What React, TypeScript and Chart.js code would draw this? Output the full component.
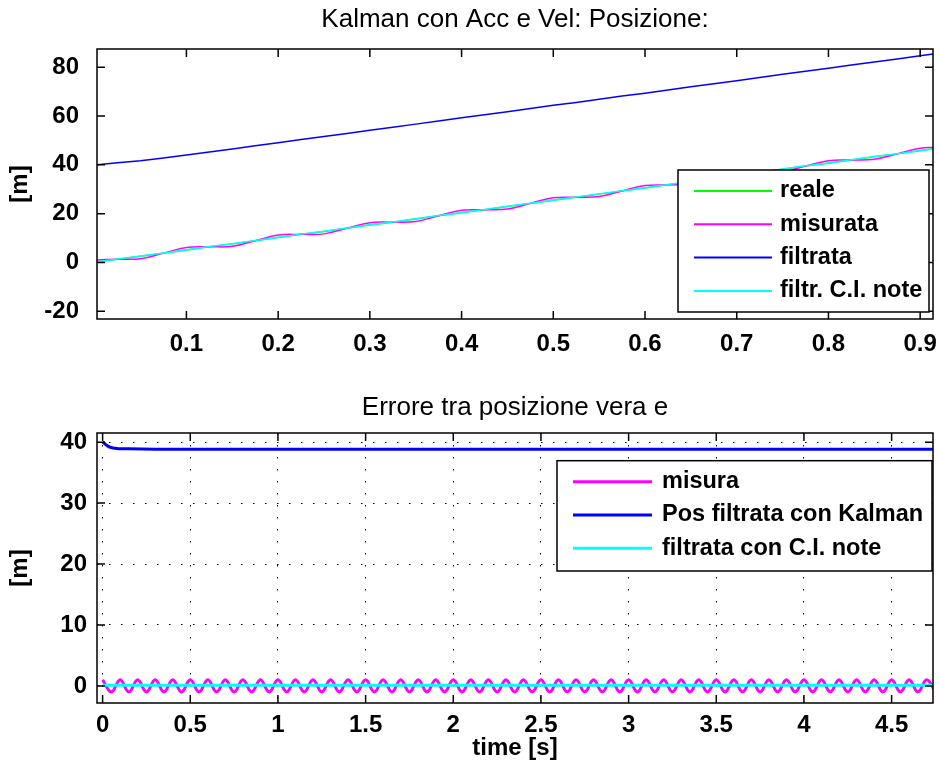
import React, { useEffect, useRef } from "react";
import { Chart, registerables } from "chart.js";

Chart.register(...registerables);

const FONT = "'Liberation Sans', Arial, Helvetica, sans-serif";

// ---------- texts ----------
const topTitle = "Kalman con Acc e Vel: Posizione:";
const bottomTitle = "Errore tra posizione vera e";
const yAxisTitle = "[m]";
const bottomXTitle = "time [s]";
const topSeriesNames = ["reale", "misurata", "filtrata", "filtr. C.I. note"];
const bottomSeriesNames = ["misura", "Pos filtrata con Kalman", "filtrata con C.I. note"];

// ---------- ticks ----------
const topXTicks = [0.1, 0.2, 0.3, 0.4, 0.5, 0.6, 0.7, 0.8, 0.9];
const topXTickLabels = ["0.1", "0.2", "0.3", "0.4", "0.5", "0.6", "0.7", "0.8", "0.9"];
const topYTicks = [-20, 0, 20, 40, 60, 80];
const topYTickLabels = ["-20", "0", "20", "40", "60", "80"];
const bottomXTicks = [0, 0.5, 1, 1.5, 2, 2.5, 3, 3.5, 4, 4.5];
const bottomXTickLabels = ["0", "0.5", "1", "1.5", "2", "2.5", "3", "3.5", "4", "4.5"];
const bottomYTicks = [0, 10, 20, 30, 40];
const bottomYTickLabels = ["0", "10", "20", "30", "40"];

// ---------- top plot data (position) ----------
const tPos = [
  0, 0.025, 0.05, 0.075, 0.1, 0.125, 0.15, 0.175, 0.2, 0.225, 0.25, 0.275, 0.3,
  0.325, 0.35, 0.375, 0.4, 0.425, 0.45, 0.475, 0.5, 0.525, 0.55, 0.575, 0.6,
  0.625, 0.65, 0.675, 0.7, 0.725, 0.75, 0.775, 0.8, 0.825, 0.85, 0.875, 0.9, 0.917,
];
const reale = [
  0, 1.3, 2.5, 3.8, 5.1, 6.4, 7.6, 8.9, 10.2, 11.5, 12.7, 14.0, 15.3, 16.5, 17.8,
  19.1, 20.4, 21.6, 22.9, 24.2, 25.5, 26.7, 28.0, 29.3, 30.5, 31.8, 33.1, 34.4,
  35.6, 36.9, 38.2, 39.5, 40.7, 42.0, 43.3, 44.5, 45.8, 46.7,
];
const misurata = [
  1.0, 1.3, 1.5, 3.8, 6.1, 6.4, 6.6, 8.9, 11.2, 11.5, 11.7, 14.0, 16.3, 16.5, 16.8,
  19.1, 21.4, 21.6, 21.9, 24.2, 26.5, 26.7, 27.0, 29.3, 31.5, 31.8, 32.1, 34.4,
  36.6, 36.9, 37.2, 39.5, 41.7, 42.0, 42.3, 44.5, 46.8, 47.2,
];
const filtrata = [
  40.0, 40.9, 41.7, 42.8, 44.0, 45.3, 46.5, 47.8, 49.1, 50.4, 51.6, 52.9, 54.2,
  55.4, 56.7, 58.0, 59.3, 60.5, 61.8, 63.1, 64.4, 65.6, 66.9, 68.2, 69.4, 70.7,
  72.0, 73.3, 74.5, 75.8, 77.1, 78.4, 79.6, 80.9, 82.2, 83.4, 84.7, 85.6,
];
const filtrCINote = [
  0.1, 1.4, 2.6, 3.9, 5.2, 6.5, 7.7, 9.0, 10.3, 11.6, 12.8, 14.1, 15.4, 16.6, 17.9,
  19.2, 20.5, 21.7, 23.0, 24.3, 25.6, 26.8, 28.1, 29.4, 30.6, 31.9, 33.2, 34.5,
  35.7, 37.0, 38.3, 39.6, 40.8, 42.1, 43.4, 44.6, 45.9, 46.8,
];

// ---------- bottom plot data (errors) ----------
const tErrMisura = [
  0, 0.05, 0.1, 0.15, 0.2, 0.25, 0.3, 0.35, 0.4, 0.45, 0.5, 0.55, 0.6, 0.65, 0.7,
  0.75, 0.8, 0.85, 0.9, 0.95, 1.0, 1.05, 1.1, 1.15, 1.2, 1.25, 1.3, 1.35, 1.4,
  1.45, 1.5, 1.55, 1.6, 1.65, 1.7, 1.75, 1.8, 1.85, 1.9, 1.95, 2.0, 2.05, 2.1,
  2.15, 2.2, 2.25, 2.3, 2.35, 2.4, 2.45, 2.5, 2.55, 2.6, 2.65, 2.7, 2.75, 2.8,
  2.85, 2.9, 2.95, 3.0, 3.05, 3.1, 3.15, 3.2, 3.25, 3.3, 3.35, 3.4, 3.45, 3.5,
  3.55, 3.6, 3.65, 3.7, 3.75, 3.8, 3.85, 3.9, 3.95, 4.0, 4.05, 4.1, 4.15, 4.2,
  4.25, 4.3, 4.35, 4.4, 4.45, 4.5, 4.55, 4.6, 4.65, 4.7, 4.75,
];
const errMisura = [
  1.0, -1.0, 1.0, -1.0, 1.0, -1.0, 1.0, -1.0, 1.0, -1.0, 1.0, -1.0, 1.0, -1.0,
  1.0, -1.0, 1.0, -1.0, 1.0, -1.0, 1.0, -1.0, 1.0, -1.0, 1.0, -1.0, 1.0, -1.0,
  1.0, -1.0, 1.0, -1.0, 1.0, -1.0, 1.0, -1.0, 1.0, -1.0, 1.0, -1.0, 1.0, -1.0,
  1.0, -1.0, 1.0, -1.0, 1.0, -1.0, 1.0, -1.0, 1.0, -1.0, 1.0, -1.0, 1.0, -1.0,
  1.0, -1.0, 1.0, -1.0, 1.0, -1.0, 1.0, -1.0, 1.0, -1.0, 1.0, -1.0, 1.0, -1.0,
  1.0, -1.0, 1.0, -1.0, 1.0, -1.0, 1.0, -1.0, 1.0, -1.0, 1.0, -1.0, 1.0, -1.0,
  1.0, -1.0, 1.0, -1.0, 1.0, -1.0, 1.0, -1.0, 1.0, -1.0, 1.0, -1.0,
];
const tErrKalman = [0, 0.01, 0.02, 0.03, 0.04, 0.06, 0.08, 0.1, 0.15, 0.3, 1, 2, 3, 4, 4.75];
const errKalman = [40.0, 39.8, 39.55, 39.35, 39.2, 39.05, 38.95, 38.9, 38.9, 38.85, 38.85, 38.85, 38.85, 38.85, 38.85];
const tErrCINote = [0, 1, 2, 3, 4, 4.75];
const errCINote = [0.1, 0.1, 0.1, 0.1, 0.1, 0.1];

const pts = (t: number[], v: number[]) => t.map((x, i) => ({ x, y: v[i] }));

// ---------- plugins ----------
const matlabFrame = {
  id: "matlabFrame",
  afterDatasetsDraw(chart: any) {
    const { ctx, chartArea: a, scales } = chart;
    const L = 8;
    ctx.save();
    ctx.strokeStyle = "#000";
    ctx.lineWidth = 1.5;
    ctx.beginPath();
    scales.x.ticks.forEach((t: any) => {
      const px = scales.x.getPixelForValue(t.value);
      ctx.moveTo(px, a.bottom);
      ctx.lineTo(px, a.bottom - L);
      ctx.moveTo(px, a.top);
      ctx.lineTo(px, a.top + L);
    });
    scales.y.ticks.forEach((t: any) => {
      const py = scales.y.getPixelForValue(t.value);
      ctx.moveTo(a.left, py);
      ctx.lineTo(a.left + L, py);
      ctx.moveTo(a.right, py);
      ctx.lineTo(a.right - L, py);
    });
    ctx.stroke();
    ctx.strokeRect(a.left, a.top, a.right - a.left, a.bottom - a.top);
    ctx.restore();
  },
};

const boxLegend = {
  id: "boxLegend",
  afterDraw(chart: any, _args: any, opts: any) {
    const { ctx } = chart;
    const ds = chart.data.datasets;
    ctx.save();
    ctx.fillStyle = "#fff";
    ctx.fillRect(opts.x, opts.y, opts.w, opts.h);
    ctx.strokeStyle = "#000";
    ctx.lineWidth = 1.5;
    ctx.strokeRect(opts.x, opts.y, opts.w, opts.h);
    ds.forEach((d: any, i: number) => {
      const y = opts.firstRow + i * opts.rowH;
      ctx.strokeStyle = d.borderColor;
      ctx.lineWidth = opts.lineWidth;
      ctx.beginPath();
      ctx.moveTo(opts.lineX0, y);
      ctx.lineTo(opts.lineX1, y);
      ctx.stroke();
      ctx.fillStyle = "#000";
      ctx.font = `bold ${opts.fontSize}px ${FONT}`;
      ctx.textBaseline = "middle";
      ctx.textAlign = "left";
      ctx.fillText(d.label, opts.textX, y);
    });
    ctx.restore();
  },
};

function makeTicks(values: number[], labels: string[], padding: number) {
  return {
    afterBuildTicks: (s: any) => {
      s.ticks = values.map((v) => ({ value: v }));
    },
    ticks: {
      autoSkip: false,
      maxRotation: 0,
      minRotation: 0,
      padding,
      color: "#000",
      font: { family: FONT, size: 24, weight: "bold" as const },
      callback: (_v: any, i: number) => labels[i],
    },
  };
}

export default function App() {
  const topRef = useRef<HTMLCanvasElement>(null);
  const botRef = useRef<HTMLCanvasElement>(null);

  useEffect(() => {
    document.body.style.margin = "0";
    const topChart = new Chart(topRef.current!, {
      type: "line",
      data: {
        datasets: [
          { label: topSeriesNames[0], data: pts(tPos, reale), borderColor: "#00ff00", borderWidth: 1.5, order: 4, tension: 0 },
          { label: topSeriesNames[1], data: pts(tPos, misurata), borderColor: "#ff00ff", borderWidth: 1.5, order: 3, tension: 0.4 },
          { label: topSeriesNames[2], data: pts(tPos, filtrata), borderColor: "#0000ff", borderWidth: 1.5, order: 2, tension: 0 },
          { label: topSeriesNames[3], data: pts(tPos, filtrCINote), borderColor: "#00ffff", borderWidth: 1.5, order: 1, tension: 0 },
        ],
      },
      options: {
        animation: false,
        responsive: false,
        events: [],
        layout: { padding: { left: 0, right: 7, top: 0, bottom: 0 } },
        elements: { point: { radius: 0 } },
        plugins: {
          legend: { display: false },
          tooltip: { enabled: false },
          title: {
            display: true,
            fullSize: false,
            text: topTitle,
            color: "#000",
            font: { family: FONT, size: 26, weight: "normal" },
            padding: { top: 4.4, bottom: 13.4 },
          },
          boxLegend: {
            x: 678, y: 170, w: 251, h: 142,
            firstRow: 191, rowH: 33.3,
            lineX0: 694, lineX1: 772, textX: 780,
            lineWidth: 2, fontSize: 23.5,
          },
        } as any,
        scales: {
          x: {
            type: "linear",
            min: 0.0025,
            max: 0.914,
            afterFit: (s: any) => { s.height = 66; },
            grid: { display: false },
            border: { display: false },
            ...makeTicks(topXTicks, topXTickLabels, 3),
          },
          y: {
            type: "linear",
            min: -23.2,
            max: 87.5,
            afterFit: (s: any) => { s.width = 97; },
            grid: { display: false },
            border: { display: false },
            title: {
              display: true,
              text: yAxisTitle,
              color: "#000",
              font: { family: FONT, size: 24, weight: "bold" },
              padding: { top: 5.6, bottom: 0 },
            },
            ...makeTicks(topYTicks, topYTickLabels, 10),
          },
        } as any,
      },
      plugins: [matlabFrame, boxLegend],
    });

    const gridOpts = {
      display: true,
      drawTicks: false,
      color: "#000",
      lineWidth: 1,
    };

    const botChart = new Chart(botRef.current!, {
      type: "line",
      data: {
        datasets: [
          { label: bottomSeriesNames[0], data: pts(tErrMisura, errMisura), borderColor: "#ff00ff", borderWidth: 3, order: 3, tension: 0.4 },
          { label: bottomSeriesNames[1], data: pts(tErrKalman, errKalman), borderColor: "#0000ff", borderWidth: 3, order: 2, tension: 0.3 },
          { label: bottomSeriesNames[2], data: pts(tErrCINote, errCINote), borderColor: "#00ffff", borderWidth: 3, order: 1, tension: 0 },
        ],
      },
      options: {
        animation: false,
        responsive: false,
        events: [],
        layout: { padding: { left: 0, right: 7, top: 0, bottom: 0 } },
        elements: { point: { radius: 0 } },
        plugins: {
          legend: { display: false },
          tooltip: { enabled: false },
          title: {
            display: true,
            fullSize: false,
            text: bottomTitle,
            color: "#000",
            font: { family: FONT, size: 26, weight: "normal" },
            padding: { top: 7.4, bottom: 9.4 },
          },
          boxLegend: {
            x: 557, y: 75.7, w: 375, h: 110.3,
            firstRow: 96.7, rowH: 33.3,
            lineX0: 573, lineX1: 652, textX: 662,
            lineWidth: 3, fontSize: 23.5,
          },
        } as any,
        scales: {
          x: {
            type: "linear",
            min: -0.032,
            max: 4.736,
            afterFit: (s: any) => { s.height = 67; },
            grid: gridOpts,
            border: { display: false, dash: [1.5, 10.5] },
            title: {
              display: true,
              text: bottomXTitle,
              color: "#000",
              font: { family: FONT, size: 24, weight: "bold" },
              padding: { top: 0, bottom: 7 },
            },
            ...makeTicks(bottomXTicks, bottomXTickLabels, 8),
          },
          y: {
            type: "linear",
            min: -2.8,
            max: 41.5,
            afterFit: (s: any) => { s.width = 97; },
            grid: gridOpts,
            border: { display: false, dash: [1.5, 10.5] },
            title: {
              display: true,
              text: yAxisTitle,
              color: "#000",
              font: { family: FONT, size: 24, weight: "bold" },
              padding: { top: 5.6, bottom: 0 },
            },
            ...makeTicks(bottomYTicks, bottomYTickLabels, 10),
          },
        } as any,
      },
      plugins: [matlabFrame, boxLegend],
    });

    return () => {
      topChart.destroy();
      botChart.destroy();
    };
  }, []);

  return (
    <div style={{ position: "relative", width: 940, height: 770, background: "#fff" }}>
      <canvas ref={topRef} width={940} height={385} style={{ display: "block" }} />
      <canvas ref={botRef} width={940} height={385} style={{ display: "block" }} />
    </div>
  );
}
